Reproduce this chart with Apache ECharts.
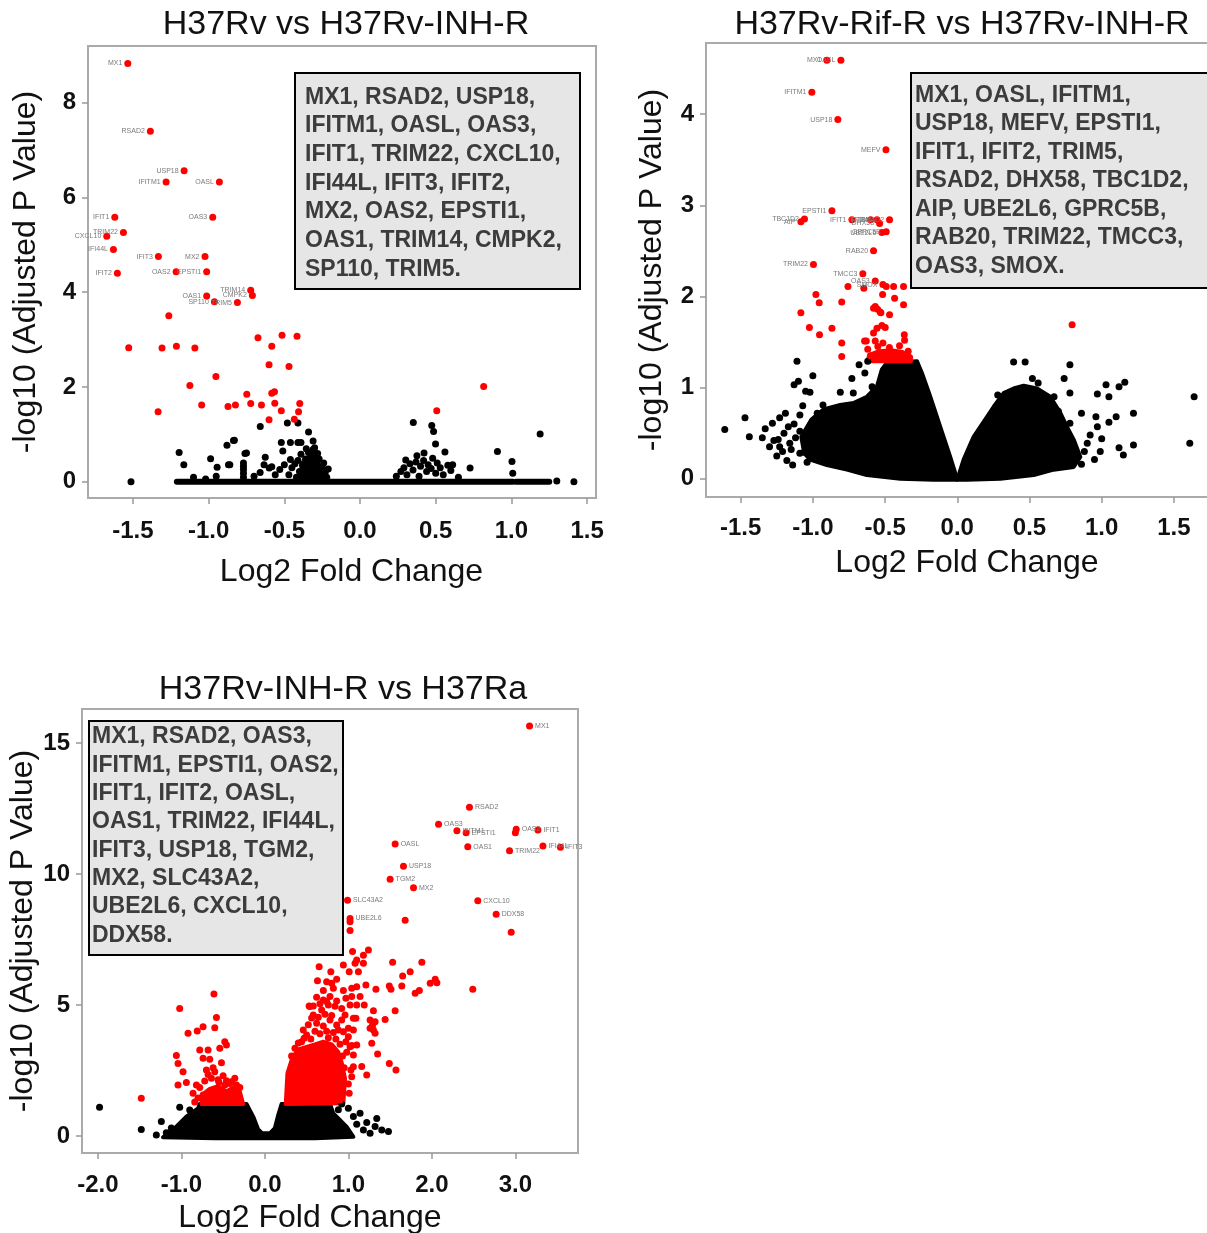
<!DOCTYPE html>
<html>
<head>
  <meta charset="utf-8">
  <title>Volcano plots</title>
  <script src="https://cdn.jsdelivr.net/npm/echarts@6/dist/echarts.min.js"></script>
  <style>
    html, body { margin: 0; padding: 0; background: #fff; }
    #chart { width: 1207px; height: 1233px; }
  </style>
</head>
<body>
<div id="chart"></div>
<script>
// ---- panel 1: H37Rv vs H37Rv-INH-R ----
var p1Title = 'H37Rv vs H37Rv-INH-R';
var p1Genes = ['MX1, RSAD2, USP18,', 'IFITM1, OASL, OAS3,', 'IFIT1, TRIM22, CXCL10,', 'IFI44L, IFIT3, IFIT2,',
  'MX2, OAS2, EPSTI1,', 'OAS1, TRIM14, CMPK2,', 'SP110, TRIM5.'];
var p1XTicks = [-1.5, -1.0, -0.5, 0.0, 0.5, 1.0, 1.5];
var p1YTicks = [0, 2, 4, 6, 8];
var p1LabelNames = ['MX1', 'RSAD2', 'USP18', 'IFITM1', 'OASL', 'IFIT1', 'OAS3', 'TRIM22', 'CXCL10', 'IFI44L',
  'IFIT3', 'MX2', 'IFIT2', 'OAS2', 'EPSTI1', 'TRIM14', 'CMPK2', 'OAS1', 'SP110', 'TRIM5'];
var p1LabelPts = [[-1.534, 8.82], [-1.385, 7.39], [-1.162, 6.56], [-1.281, 6.32], [-0.929, 6.32], [-1.620, 5.58],
  [-0.973, 5.58], [-1.563, 5.26], [-1.673, 5.18], [-1.629, 4.90], [-1.332, 4.75], [-1.024, 4.75], [-1.603, 4.40],
  [-1.215, 4.43], [-1.013, 4.43], [-0.722, 4.04], [-0.711, 3.93], [-1.013, 3.92], [-0.962, 3.80], [-0.810, 3.78]];
var p1Red = [[-1.263, 3.50], [-1.528, 2.83], [-1.308, 2.82], [-1.213, 2.86], [-1.091, 2.82], [-0.674, 3.04],
  [-0.515, 3.09], [-0.416, 3.07], [-0.583, 2.86], [-0.601, 2.47], [-0.469, 2.43], [-0.952, 2.22], [-1.124, 2.03],
  [-1.334, 1.48], [-1.046, 1.62], [-0.872, 1.59], [-0.823, 1.62], [-0.748, 1.85], [-0.722, 1.65], [-0.651, 1.62],
  [-0.583, 1.87], [-0.565, 1.90], [-0.563, 1.66], [-0.520, 1.50], [-0.601, 1.31], [-0.434, 1.32], [-0.406, 1.48],
  [-0.398, 1.65], [0.817, 2.01], [0.507, 1.50]];
var p1Black = [[-1.513, 0.0], [-1.195, 0.62], [-1.164, 0.36], [-0.987, 0.49], [-0.944, 0.31], [-0.879, 0.77],
  [-0.836, 0.87], [-0.869, 0.36], [-0.76, 0.60], [-0.659, 1.17], [-0.626, 0.52], [-0.634, 0.36], [-0.583, 0.32],
  [-0.52, 0.83], [-0.46, 0.83], [-0.41, 0.83], [-0.39, 0.83], [-0.31, 0.86], [-0.48, 1.24], [-0.41, 1.24],
  [-0.34, 1.05], [-0.51, 0.65], [-0.83, 0.88], [-0.75, 0.61], [-0.60, 0.29], [-0.53, 0.26], [-0.50, 0.36],
  [-0.46, 0.47], [-0.30, 0.72], [-0.29, 0.58], [-0.21, 0.27], [-0.86, 0.36], [-0.77, 0.10], [-0.77, 0.18],
  [-0.77, 0.26], [-0.77, 0.33], [-0.77, 0.40], [-1.10, 0.10], [-1.02, 0.06], [-0.95, 0.12], [-0.70, 0.12],
  [-0.66, 0.20], [-0.56, 0.15],
  [-0.42, 0.10], [-0.40, 0.22], [-0.38, 0.35], [-0.36, 0.48], [-0.35, 0.15], [-0.34, 0.62], [-0.33, 0.28],
  [-0.32, 0.42], [-0.31, 0.55], [-0.30, 0.10], [-0.29, 0.35], [-0.28, 0.22], [-0.27, 0.48], [-0.26, 0.15],
  [-0.25, 0.32], [-0.24, 0.40], [-0.23, 0.20], [-0.22, 0.10], [-0.37, 0.05], [-0.39, 0.58], [-0.41, 0.45],
  [-0.355, 0.70], [-0.31, 0.68], [-0.28, 0.60], [-0.45, 0.30], [-0.47, 0.15], [-0.43, 0.38], [-0.26, 0.05],
  [0.352, 1.25], [0.474, 1.19], [0.486, 1.06], [0.499, 0.80], [0.561, 0.63],
  [0.376, 0.55], [0.423, 0.61], [0.302, 0.46], [0.612, 0.36], [0.727, 0.29], [0.908, 0.64], [1.004, 0.43],
  [1.009, 0.18], [1.19, 1.01], [1.30, 0.02], [1.413, 0.0], [0.24, 0.12], [0.27, 0.22], [0.29, 0.30], [0.31, 0.15],
  [0.33, 0.38], [0.35, 0.25], [0.37, 0.42], [0.39, 0.12], [0.40, 0.33], [0.42, 0.45], [0.44, 0.22], [0.45, 0.36],
  [0.47, 0.28], [0.48, 0.50], [0.50, 0.18], [0.51, 0.40], [0.53, 0.30], [0.55, 0.15], [0.58, 0.35], [0.60, 0.24],
  [0.65, 0.10]];
var p1Cloud = [[-0.40, 0.02], [-0.38, 0.40], [-0.33, 0.55], [-0.28, 0.45], [-0.24, 0.02]];
var p1Baseline = [[-1.21, 0], [1.01, 0]];
var p1Baseline2 = [[1.03, 0], [1.25, 0]];

// ---- panel 2: H37Rv-Rif-R vs H37Rv-INH-R ----
var p2Title = 'H37Rv-Rif-R vs H37Rv-INH-R';
var p2Genes = ['MX1, OASL, IFITM1,', 'USP18, MEFV, EPSTI1,', 'IFIT1, IFIT2, TRIM5,', 'RSAD2, DHX58, TBC1D2,',
  'AIP, UBE2L6, GPRC5B,', 'RAB20, TRIM22, TMCC3,', 'OAS3, SMOX.'];
var p2XTicks = [-1.5, -1.0, -0.5, 0.0, 0.5, 1.0, 1.5];
var p2YTicks = [0, 1, 2, 3, 4];
var p2LabelNames = ['MX1', 'OASL', 'IFITM1', 'USP18', 'MEFV', 'EPSTI1', 'AIP', 'TBC1D2', 'IFIT1', 'IFIT2',
  'TRIM5', 'RSAD2', 'DHX58', 'UBE2L6', 'GPRC5B', 'RAB20', 'TRIM22', 'TMCC3', 'OAS3', 'SMOX'];
var p2LabelPts = [[-0.903, 4.59], [-0.806, 4.59], [-1.007, 4.24], [-0.827, 3.94], [-0.494, 3.61], [-0.868, 2.94],
  [-1.083, 2.82], [-1.058, 2.85], [-0.73, 2.84], [-0.60, 2.84], [-0.556, 2.84], [-0.469, 2.84], [-0.538, 2.80],
  [-0.522, 2.70], [-0.492, 2.71], [-0.58, 2.50], [-0.996, 2.35], [-0.654, 2.25], [-0.568, 2.17], [-0.515, 2.13]];
var p2Red = [[-0.757, 2.11], [-0.647, 2.09], [-0.492, 2.11], [-0.441, 2.11], [-0.372, 2.11], [-0.979, 2.02],
  [-0.956, 1.93], [-0.80, 1.94], [-0.517, 2.02], [-0.434, 1.98], [-0.372, 1.91], [-1.083, 1.82], [-0.568, 1.89],
  [-0.552, 1.86], [-0.529, 1.82], [-0.469, 1.80], [-1.024, 1.66], [-0.868, 1.65], [-0.954, 1.58], [-0.556, 1.65],
  [-0.522, 1.68], [-0.499, 1.66], [-0.58, 1.60], [-0.367, 1.58], [-0.80, 1.49], [-0.63, 1.51], [-0.568, 1.51],
  [-0.80, 1.34], [-0.642, 1.51], [-0.515, 1.49], [-0.365, 1.52], [-0.58, 1.87], [-0.534, 1.83], [0.795, 1.69],
  [-0.62, 1.42], [-0.55, 1.45], [-0.47, 1.44], [-0.40, 1.46], [-0.34, 1.40], [-0.60, 1.35], [-0.33, 1.33]];
var p2RedBand = [[-0.62, 1.29], [-0.61, 1.36], [-0.54, 1.40], [-0.46, 1.41], [-0.38, 1.39], [-0.33, 1.34],
  [-0.32, 1.29]];
var p2Black = [[-1.61, 0.54], [-1.47, 0.67], [-1.44, 0.46], [-1.28, 0.61], [-1.23, 0.67], [-1.24, 0.43],
  [-1.23, 0.35], [-1.17, 0.57], [-1.16, 0.39], [-1.13, 1.03], [-1.10, 1.07], [-1.09, 0.70], [-1.11, 1.29],
  [-1.05, 0.96], [-1.02, 0.95], [-1.00, 1.13], [-1.04, 0.18], [-1.09, 0.52], [-1.09, 0.28], [-1.06, 0.29],
  [-0.97, 0.72], [-0.95, 0.61], [-0.93, 0.81], [-0.85, 0.18], [-0.81, 0.95], [-0.73, 1.10], [-0.72, 0.94],
  [-0.70, 0.76], [-0.68, 1.25], [-0.64, 1.16], [-0.62, 1.29], [-0.59, 1.01], [-0.58, 0.99], [-0.70, 0.21],
  [-1.35, 0.45], [-1.30, 0.35], [-1.25, 0.25], [-1.20, 0.50], [-1.18, 0.20], [-1.15, 0.32], [-1.12, 0.45],
  [-1.14, 0.15], [-1.33, 0.55], [-1.27, 0.42], [-1.21, 0.30], [-1.13, 0.60], [-1.19, 0.72], [-1.07, 0.80],
  [1.64, 0.90], [1.61, 0.39], [1.22, 0.72], [1.22, 0.37], [1.16, 1.06], [1.12, 1.01], [1.10, 0.68], [1.03, 1.03],
  [1.05, 0.90], [1.05, 0.62], [0.97, 0.93], [0.96, 0.68], [0.95, 0.21], [0.99, 0.30], [0.97, 0.57], [0.86, 0.72],
  [0.78, 0.94], [0.78, 1.25], [0.74, 1.10], [0.70, 0.74], [0.78, 0.61], [0.90, 0.39], [1.15, 0.26], [1.12, 0.34],
  [0.71, 0.19], [0.67, 0.90], [0.56, 1.05], [0.52, 1.10], [0.47, 1.28], [0.39, 1.28], [0.28, 0.92], [0.64, 0.46],
  [0.88, 0.30], [0.92, 0.48], [0.86, 0.16], [1.00, 0.44]];
var p2CloudLeft = [[-1.06, 0.28], [-1.08, 0.46], [-1.01, 0.65], [-0.927, 0.76], [-0.811, 0.81], [-0.719, 0.83],
  [-0.626, 0.90], [-0.557, 1.01], [-0.522, 1.20], [-0.488, 1.27], [-0.279, 1.29], [-0.245, 1.16], [-0.187, 0.90],
  [-0.118, 0.57], [-0.049, 0.24], [0.0, -0.01], [-0.164, -0.01], [-0.395, 0.0], [-0.626, 0.04], [-0.764, 0.10],
  [-0.903, 0.15], [-1.019, 0.21]];
var p2CloudRight = [[0.0, -0.01], [0.044, 0.21], [0.113, 0.46], [0.206, 0.68], [0.252, 0.79], [0.321, 0.94],
  [0.390, 0.99], [0.460, 1.02], [0.552, 0.99], [0.644, 0.90], [0.714, 0.72], [0.760, 0.57], [0.806, 0.43],
  [0.852, 0.24], [0.806, 0.13], [0.667, 0.10], [0.529, 0.04], [0.298, 0.0], [0.067, -0.01]];

// ---- panel 3: H37Rv-INH-R vs H37Ra ----
var p3Title = 'H37Rv-INH-R vs H37Ra';
var p3Genes = ['MX1, RSAD2, OAS3,', 'IFITM1, EPSTI1, OAS2,', 'IFIT1, IFIT2, OASL,', 'OAS1, TRIM22, IFI44L,',
  'IFIT3, USP18, TGM2,', 'MX2, SLC43A2,', 'UBE2L6, CXCL10,', 'DDX58.'];
var p3XTicks = [-2.0, -1.0, 0.0, 1.0, 2.0, 3.0];
var p3YTicks = [0, 5, 10, 15];
var p3LabelNames = ['MX1', 'RSAD2', 'OAS3', 'IFITM1', 'EPSTI1', 'OAS2', 'IFIT1', 'OAS1', 'TRIM22', 'IFI44L',
  'IFIT3', 'OASL', 'USP18', 'TGM2', 'MX2', 'SLC43A2', 'UBE2L6', 'CXCL10', 'DDX58'];
var p3LabelPts = [[3.17, 15.65], [2.45, 12.55], [2.08, 11.90], [2.30, 11.65], [2.41, 11.58], [3.01, 11.71],
  [3.27, 11.68], [2.43, 11.04], [2.93, 10.89], [3.33, 11.07], [3.54, 11.02], [1.56, 11.15], [1.66, 10.30],
  [1.50, 9.80], [1.78, 9.48], [0.99, 9.00], [1.02, 8.30], [2.55, 8.98], [2.77, 8.46]];
var p3Red = [[3.00, 11.58], [1.02, 8.18], [1.02, 7.84], [1.68, 8.24], [2.95, 7.78], [1.05, 7.04], [1.18, 6.90],
  [1.24, 7.10], [2.49, 5.60], [1.10, 6.72], [1.08, 6.59], [1.18, 6.59], [0.94, 6.53], [1.01, 6.27], [1.12, 6.27],
  [0.65, 6.46], [0.79, 6.27], [1.53, 6.63], [1.88, 6.63], [1.74, 6.27], [1.65, 6.11], [0.63, 5.93], [0.74, 5.89],
  [0.80, 5.83], [0.86, 5.98], [0.82, 5.64], [1.04, 5.64], [1.10, 5.70], [1.21, 5.76], [1.33, 5.60], [1.49, 5.73],
  [1.51, 5.60], [1.64, 5.73], [1.80, 5.45], [1.85, 5.55], [1.98, 5.83], [2.04, 5.98], [2.06, 5.85], [0.78, 5.32],
  [0.70, 5.19], [0.58, 4.96], [0.54, 4.94], [0.97, 5.26], [1.04, 5.32], [1.14, 5.32], [1.02, 5.00], [1.10, 5.00],
  [1.19, 5.00], [1.30, 4.78], [1.56, 4.78], [1.44, 4.45], [1.26, 4.43], [1.32, 4.36], [1.06, 4.49], [1.09, 4.49],
  [0.92, 4.43], [1.26, 4.11], [1.30, 4.05], [1.32, 3.92], [1.00, 3.79], [0.94, 3.98], [1.28, 3.54], [1.04, 3.45],
  [1.35, 3.13], [1.06, 3.09], [1.49, 2.77], [1.57, 2.52], [1.16, 2.65], [1.22, 2.33], [1.03, 2.52], [1.01, 1.63],
  [0.90, 1.37], [0.86, 1.78], [0.47, 3.73], [0.53, 4.96], [1.29, 4.24], [1.00, 1.98], [0.74, 5.13], [0.68, 4.81],
  [0.58, 4.62], [0.64, 4.53], [0.78, 4.43], [0.86, 4.24], [0.92, 4.87], [0.96, 4.62], [1.00, 4.11], [1.06, 4.05],
  [1.10, 3.47], [1.02, 3.41], [1.06, 2.64], [1.04, 2.26],
  [0.44, 3.60], [0.50, 3.85], [0.55, 3.70], [0.60, 4.00], [0.66, 3.90], [0.70, 4.20], [0.74, 4.00], [0.76, 3.75],
  [0.82, 3.95], [0.85, 3.70], [0.88, 4.05], [0.62, 4.30], [0.72, 4.65], [0.80, 4.60], [0.84, 4.95], [0.66, 5.05],
  [0.90, 3.50], [0.97, 3.60], [0.98, 3.20], [0.52, 4.25], [0.46, 4.05], [0.40, 3.55], [0.56, 4.50], [0.76, 5.00],
  [0.86, 5.15], [0.94, 5.55], [0.70, 5.55], [0.62, 5.30], [0.36, 3.35], [0.32, 3.05], [0.93, 3.05], [0.95, 2.60],
  [-1.48, 1.44], [-1.02, 4.87], [-0.61, 5.42], [-0.58, 4.52], [-0.60, 4.13], [-0.92, 3.92], [-0.81, 4.01],
  [-0.74, 4.17], [-1.06, 3.07], [-1.04, 2.77], [-0.98, 2.45], [-1.04, 1.95], [-0.94, 2.04], [-0.78, 3.28],
  [-0.68, 3.28], [-0.54, 3.35], [-0.48, 3.60], [-0.46, 3.47], [-0.74, 2.97], [-0.66, 2.93], [-0.52, 2.80],
  [-0.70, 2.52], [-0.60, 2.45], [-0.86, 1.63], [-0.74, 1.56], [-0.82, 1.95], [-0.36, 2.20], [-0.40, 2.07],
  [-0.46, 2.11], [-0.78, 1.85], [-0.72, 2.10], [-0.64, 2.20], [-0.56, 2.15], [-0.50, 2.30], [-0.42, 2.00],
  [-0.34, 1.95], [-0.30, 1.85], [-0.68, 2.35], [-0.62, 2.60], [-0.55, 2.05], [-0.48, 1.95], [-0.80, 1.45],
  [-0.84, 1.30]];
var p3RedLeft = [[-0.76, 1.22], [-0.74, 1.60], [-0.66, 1.80], [-0.56, 1.90], [-0.46, 1.70], [-0.38, 1.85],
  [-0.30, 1.70], [-0.26, 1.22]];
var p3RedRight = [[0.25, 1.22], [0.27, 2.39], [0.33, 3.00], [0.40, 3.30], [0.50, 3.40], [0.60, 3.50],
  [0.70, 3.60], [0.80, 3.50], [0.88, 3.20], [0.92, 2.80], [0.96, 2.20], [0.94, 1.25]];
var p3Black = [[-1.98, 1.10], [-1.48, 0.25], [-1.24, 0.55], [-1.30, 0.04], [-1.02, 1.10], [-0.90, 0.99],
  [-0.92, 0.67], [1.34, 0.67], [1.32, 0.36], [1.48, 0.17], [1.22, 0.51], [1.14, 0.87], [1.00, 1.06], [0.92, 1.22],
  [1.06, 0.74], [1.18, 0.23], [1.26, 0.10], [1.40, 0.23], [-1.12, 0.30], [-1.18, 0.12], [1.10, 0.45], [0.88, 1.00]];
var p3Cloud = [[-1.22, -0.05], [-1.10, 0.23], [-0.94, 0.74], [-0.80, 1.05], [-0.78, 1.22], [-0.22, 1.22],
  [-0.14, 0.74], [-0.08, 0.25], [-0.03, 0.10], [0.06, 0.10], [0.12, 0.30], [0.16, 0.80], [0.20, 1.22],
  [0.78, 1.22], [0.82, 0.86], [0.98, 0.35], [1.06, -0.03], [0.60, -0.09], [-0.60, -0.09]];

var FONT = '"Liberation Sans", Arial, Helvetica, sans-serif';
var RED = '#ff0000';

var chart = echarts.init(document.getElementById('chart'));

function xAxisFor(i, min, max, ticks, margin, gap, pad) {
  return {
    gridIndex: i, type: 'value', min: min, max: max,
    name: 'Log2 Fold Change', nameLocation: 'middle', nameGap: gap,
    nameTextStyle: { fontSize: 32, color: '#111', fontFamily: FONT, padding: pad },
    axisLine: { show: false, onZero: false },
    axisTick: { show: true, length: 6, customValues: ticks, lineStyle: { color: '#999', width: 1.5 } },
    axisLabel: {
      customValues: ticks, margin: margin, fontSize: 24, fontWeight: 'bold', color: '#111', fontFamily: FONT,
      formatter: function (v) { return v.toFixed(1); }
    },
    splitLine: { show: false }
  };
}

function yAxisFor(i, min, max, ticks, gap) {
  return {
    gridIndex: i, type: 'value', min: min, max: max,
    name: '-log10 (Adjusted P Value)', nameLocation: 'middle', nameRotate: 90, nameGap: gap,
    nameTextStyle: { fontSize: 32, color: '#111', fontFamily: FONT },
    axisLine: { show: false, onZero: false },
    axisTick: { show: true, length: 6, customValues: ticks, lineStyle: { color: '#999', width: 1.5 } },
    axisLabel: { customValues: ticks, margin: 12, fontSize: 24, fontWeight: 'bold', color: '#111', fontFamily: FONT },
    splitLine: { show: false }
  };
}

function dots(pts, color, i) {
  return {
    type: 'scatter', xAxisIndex: i, yAxisIndex: i, data: pts, symbolSize: 7, silent: true,
    itemStyle: { color: color, opacity: 1 }
  };
}

function labelled(names, pts, i, side) {
  return {
    type: 'scatter', xAxisIndex: i, yAxisIndex: i, symbolSize: 7, silent: true,
    itemStyle: { color: RED, opacity: 1 },
    label: { show: true, position: side, distance: 2, formatter: '{b}', fontSize: 7, color: '#7a7a7a', fontFamily: FONT },
    data: pts.map(function (p, k) { return { name: names[k], value: p }; })
  };
}

function blob(verts, color, i) {
  return {
    type: 'custom', xAxisIndex: i, yAxisIndex: i, data: verts, silent: true,
    renderItem: function (params, api) {
      if (params.dataIndex !== 0) return;
      return {
        type: 'polygon',
        shape: { points: verts.map(function (p) { return api.coord(p); }) },
        style: { fill: color, stroke: color, lineWidth: 4, lineJoin: 'round' }
      };
    }
  };
}

function baseline(pts, i) {
  return {
    type: 'line', xAxisIndex: i, yAxisIndex: i, data: pts, symbol: 'none', silent: true,
    lineStyle: { color: '#000', width: 6, cap: 'round' }
  };
}

function geneBox(x, y, w, h, tx, ty, lines, lh) {
  return {
    type: 'group', children: [
      { type: 'rect', shape: { x: x, y: y, width: w, height: h },
        style: { fill: '#e6e6e6', stroke: '#000', lineWidth: 2 } },
      { type: 'text', x: tx, y: ty,
        style: { text: lines.join('\n'), font: 'bold 23px ' + FONT, fill: '#3c3c3c', lineHeight: lh,
          textAlign: 'left', textVerticalAlign: 'top' } }
    ]
  };
}

function heading(x, y, text) {
  return { type: 'text', x: x, y: y,
    style: { text: text, font: '34px ' + FONT, fill: '#111', textAlign: 'center', textVerticalAlign: 'top' } };
}

var gridBase = { show: true, borderColor: '#aaa', borderWidth: 2, backgroundColor: '#fff', containLabel: false, outerBoundsMode: 'none' };

var option = {
  animation: false,
  backgroundColor: '#fff',
  grid: [
    Object.assign({ left: 88, top: 46, width: 508, height: 452 }, gridBase),
    Object.assign({ left: 706, top: 43, width: 530, height: 454 }, gridBase),
    Object.assign({ left: 82, top: 709, width: 496, height: 444 }, gridBase)
  ],
  xAxis: [
    xAxisFor(0, -1.797, 1.559, p1XTicks, 21, 58, [0, 0, 0, 19]),
    xAxisFor(1, -1.74, 1.93, p2XTicks, 19, 50, [0, 8, 0, 0]),
    xAxisFor(2, -2.19, 3.75, p3XTicks, 20, 49, [0, 40, 0, 0])
  ],
  yAxis: [
    yAxisFor(0, -0.34, 9.19, p1YTicks, 46),
    yAxisFor(1, -0.20, 4.78, p2YTicks, 38),
    yAxisFor(2, -0.65, 16.3, p3YTicks, 42)
  ],
  graphic: [
    heading(346, 8, p1Title),
    heading(962, 8, p2Title),
    heading(343, 673, p3Title),
    geneBox(295, 73, 285, 216, 305, 83, p1Genes, 28.7),
    geneBox(911, 73, 320, 215, 915, 81, p2Genes, 28.5),
    geneBox(89, 721, 254, 234, 92, 723, p3Genes, 28.3)
  ],
  series: [
    baseline(p1Baseline, 0),
    baseline(p1Baseline2, 0),
    blob(p1Cloud, '#000', 0),
    dots(p1Black, '#000', 0),
    dots(p1Red, RED, 0),
    labelled(p1LabelNames, p1LabelPts, 0, 'left'),

    blob(p2CloudLeft, '#000', 1),
    blob(p2CloudRight, '#000', 1),
    dots(p2Black, '#000', 1),
    blob(p2RedBand, RED, 1),
    dots(p2Red, RED, 1),
    labelled(p2LabelNames, p2LabelPts, 1, 'left'),

    blob(p3Cloud, '#000', 2),
    dots(p3Black, '#000', 2),
    blob(p3RedLeft, RED, 2),
    blob(p3RedRight, RED, 2),
    dots(p3Red, RED, 2),
    labelled(p3LabelNames, p3LabelPts, 2, 'right')
  ]
};

chart.setOption(option);
</script>
</body>
</html>
